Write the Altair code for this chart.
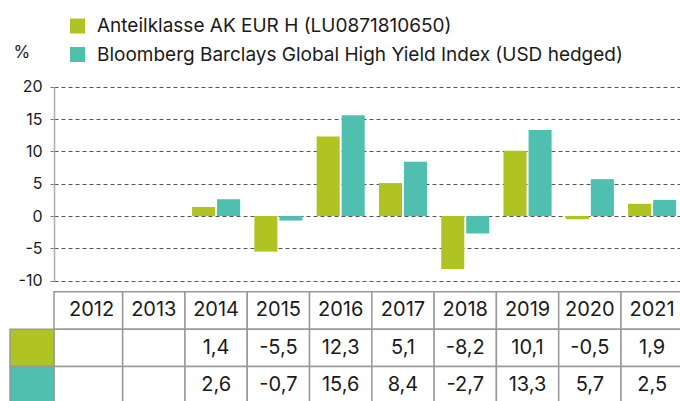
import altair as alt
import pandas as pd

# ---------------- data ----------------
years = [2012, 2013, 2014, 2015, 2016, 2017, 2018, 2019, 2020, 2021]
fund_name = "Anteilklasse AK EUR H (LU0871810650)"
index_name = "Bloomberg Barclays Global High Yield Index (USD hedged)"
fund_values = [None, None, 1.4, -5.5, 12.3, 5.1, -8.2, 10.1, -0.5, 1.9]
index_values = [None, None, 2.6, -0.7, 15.6, 8.4, -2.7, 13.3, 5.7, 2.5]
y_ticks = [-10, -5, 0, 5, 10, 15, 20]
series_names = [fund_name, index_name]
series_colors = ["#AFC323", "#4FBFAF"]
unit_label = "%"

# ---------------- layout constants ----------------
STEP = 62.29                     # px per year column
PLOT_W, PLOT_H = 626, 401
X_MIN = 2014 - 162.1 / STEP      # year value at the y axis
X_MAX = X_MIN + PLOT_W / STEP
KEY_LEFT = X_MIN - 44 / STEP     # left edge of the coloured key cells
BAR_W = 0.37
BAR_GAP = 0.016
FONT = "Inter"
TEXT = "#1A1A1A"
LINE = "#999999"

xscale = alt.Scale(domain=[X_MIN, X_MAX], nice=False, zero=False)
yscale = alt.Scale(domain=[-10, 20], range=[280.7, 86.7], nice=False, zero=False)
tscale = alt.Scale(domain=[0, 3], range=[291.7, 404], nice=False, zero=False)
cscale = alt.Scale(domain=series_names, range=series_colors)

legend = alt.Legend(
    orient="none", legendX=14, legendY=16.5, title=None,
    symbolType="square", symbolSize=225, symbolStrokeWidth=0,
    labelFont=FONT, labelFontSize=19, labelColor=TEXT,
    labelOffset=10, rowPadding=8.5, padding=0, labelLimit=700,
    direction="vertical",
)

# ---------------- tables ----------------
rows = []
for s, (name, vals) in enumerate(zip(series_names, [fund_values, index_values])):
    for y, v in zip(years, vals):
        rows.append({"year": y, "series": name, "s": s, "value": v,
                     "label": "" if v is None else f"{v:.1f}".replace(".", ",")})
long_df = pd.DataFrame(rows)
bars_df = long_df.dropna(subset=["value"])

cells = []
for i, y in enumerate(years):
    for r in range(3):
        cells.append({"year": y, "x0": X_MIN if i == 0 else y - 0.5, "x1": y + 0.5,
                      "r0": r, "r1": r + 1})
cells_df = pd.DataFrame(cells)

key_df = pd.DataFrame({"series": series_names, "s": [0, 1]})
key_df["x0"] = KEY_LEFT
key_df["x1"] = X_MIN
key_df["r0"] = key_df["s"] + 1
key_df["r1"] = key_df["s"] + 2

text_rows = [{"year": y, "rc": 0.5, "label": str(y)} for y in years]
for _, r in long_df.iterrows():
    if r["label"]:
        text_rows.append({"year": r["year"], "rc": r["s"] + 1.5, "label": r["label"]})
text_df = pd.DataFrame(text_rows)

# ---------------- layers ----------------
bars = (
    alt.Chart(bars_df)
    .transform_calculate(
        bx0=f"datum.year + (datum.s == 0 ? {-(BAR_GAP + BAR_W)} : {BAR_GAP})"
    )
    .transform_calculate(bx1=f"datum.bx0 + {BAR_W}")
    .mark_rect()
    .encode(
        x=alt.X("bx0:Q", scale=xscale, axis=None),
        x2="bx1:Q",
        y=alt.Y(
            "value:Q", scale=yscale,
            axis=alt.Axis(
                values=y_ticks, labelExpr="'' + datum.value",
                grid=True, gridDash=[4, 3], gridColor="#555555", gridWidth=1,
                domainColor="#AAAAAA", domainWidth=1.5,
                tickColor="#777777", tickSize=4, tickWidth=1,
                labelFont=FONT, labelFontSize=16, labelColor=TEXT, labelPadding=8,
                title=unit_label, titleAngle=0, titleX=-41, titleY=52,
                titleAlign="left", titleBaseline="middle", titleFont=FONT,
                titleFontSize=17, titleFontWeight="normal", titleColor=TEXT,
            ),
        ),
        y2=alt.datum(0),
        color=alt.Color("series:N", scale=cscale, legend=legend),
    )
)

table_cells = (
    alt.Chart(cells_df)
    .mark_rect(fill="white", stroke=LINE, strokeWidth=1.5)
    .encode(
        x=alt.X("x0:Q", scale=xscale, axis=None),
        x2="x1:Q",
        y=alt.Y("r0:Q", scale=tscale, axis=None),
        y2="r1:Q",
    )
)

key_cells = (
    alt.Chart(key_df)
    .mark_rect(stroke=LINE, strokeWidth=1.5)
    .encode(
        x=alt.X("x0:Q", scale=xscale, axis=None),
        x2="x1:Q",
        y=alt.Y("r0:Q", scale=tscale, axis=None),
        y2="r1:Q",
        color=alt.Color("series:N", scale=cscale, legend=legend),
    )
)

table_text = (
    alt.Chart(text_df)
    .mark_text(font=FONT, fontSize=20, color=TEXT, align="center", baseline="middle")
    .encode(
        x=alt.X("year:Q", scale=xscale, axis=None),
        y=alt.Y("rc:Q", scale=tscale, axis=None),
        text="label:N",
    )
)

chart = (
    alt.layer(bars, table_cells, key_cells, table_text)
    .resolve_scale(y="independent")
    .properties(
        width=PLOT_W, height=PLOT_H,
        padding={"left": 54, "top": 0, "right": 0, "bottom": 0},
        autosize=alt.AutoSizeParams(type="none"),
        background="white",
    )
    .configure_view(stroke=None)
)

chart.save("out.html", embed_options={"renderer": "svg", "actions": False})
